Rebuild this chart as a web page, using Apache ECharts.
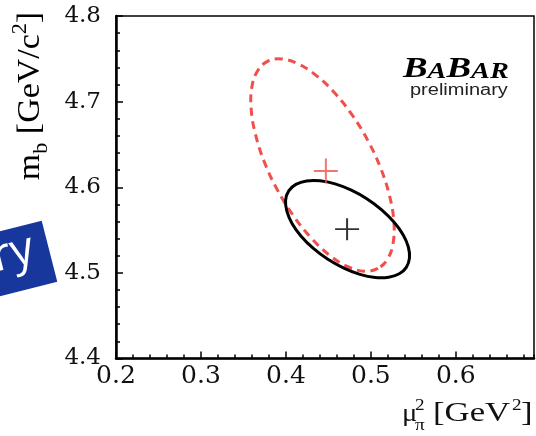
<!DOCTYPE html>
<html>
<head>
<meta charset="utf-8">
<script src="https://cdn.jsdelivr.net/npm/echarts@6/dist/echarts.min.js"></script>
<style>
  html, body { margin: 0; padding: 0; background: #fff; }
  #chart { width: 536px; height: 436px; }
</style>
</head>
<body>
<div id="chart"></div>
<script>
// Axis ranges and tick labels
const xRange = [0.2, 0.692];
const yRange = [4.4, 4.8];
const xTickValues = [0.2, 0.3, 0.4, 0.5, 0.6];
const xTickLabels = ['0.2', '0.3', '0.4', '0.5', '0.6'];
const yTickValues = [4.4, 4.5, 4.6, 4.7, 4.8];
const yTickLabels = ['4.4', '4.5', '4.6', '4.7', '4.8'];

// 1-sigma contour of the first fit (red, dashed): [mu_pi^2, m_b]
const redContour = [
  [0.5083, 4.5053], [0.4922, 4.5020], [0.4729, 4.5072], [0.4514, 4.5205],
  [0.4294, 4.5411], [0.4084, 4.5673], [0.3896, 4.5975], [0.3745, 4.6297],
  [0.3642, 4.6618], [0.3591, 4.6912], [0.3598, 4.7163], [0.3662, 4.7352],
  [0.3778, 4.7467], [0.3939, 4.7499], [0.4132, 4.7447], [0.4347, 4.7313],
  [0.4567, 4.7109], [0.4777, 4.6847], [0.4965, 4.6544], [0.5116, 4.6221],
  [0.5219, 4.5902], [0.5270, 4.5607], [0.5263, 4.5357], [0.5199, 4.5167]
];
// 1-sigma contour of the second fit (black, solid)
const blackContour = [
  [0.5417, 4.5065], [0.5334, 4.4989], [0.5209, 4.4949], [0.5051, 4.4946],
  [0.4871, 4.4982], [0.4682, 4.5055], [0.4494, 4.5158], [0.4323, 4.5285],
  [0.4179, 4.5428], [0.4072, 4.5577], [0.4011, 4.5720], [0.3996, 4.5850],
  [0.4033, 4.5957], [0.4117, 4.6033], [0.4242, 4.6074], [0.4400, 4.6076],
  [0.4579, 4.6040], [0.4770, 4.5967], [0.4956, 4.5864], [0.5127, 4.5737],
  [0.5271, 4.5594], [0.5379, 4.5446], [0.5441, 4.5302], [0.5454, 4.5172]
];
// Central values
const redCenter = [[0.447, 4.619]];
const blackCenter = [[0.472, 4.551]];

const SERIF = '"Liberation Serif", "Times New Roman", serif';
const TICK_FONT = '"DejaVu Serif", serif';
const SANS = '"Liberation Sans", Arial, sans-serif';
const RED = '#f0504c';
const CROSS = 'path://M0,11H24V13H0Z M11,0H13V24H11Z';

function labelFor(values, labels) {
  return function (v) {
    const i = values.findIndex(t => Math.abs(t - v) < 1e-6);
    return i >= 0 ? labels[i] : '';
  };
}

// Closed smooth contour through the data points, mapped by the axes
function contourRenderer(color, width, dash) {
  return function (params, api) {
    if (params.dataIndexInside !== 0) return null;
    const n = params.dataInsideLength;
    const pts = [];
    for (let i = 0; i < n; i++) {
      pts.push(api.coord([api.value(0, i), api.value(1, i)]));
    }
    return {
      type: 'polygon',
      shape: { points: pts, smooth: 0.4 },
      style: { fill: 'none', stroke: color, lineWidth: width, lineDash: dash, lineCap: 'butt' },
      silent: true
    };
  };
}

const tickLine = { color: '#000', width: 1.5 };

const option = {
  animation: false,
  backgroundColor: '#fff',
  grid: {
    left: 116, top: 16, width: 418, height: 342.5,
    show: true, borderColor: '#000', borderWidth: 1.5, backgroundColor: 'transparent'
  },
  xAxis: [
    {
      type: 'value', min: xRange[0], max: xRange[1], interval: 0.1, position: 'bottom',
      axisLine: { show: true, onZero: false, lineStyle: { color: '#000', width: 2.5 } },
      axisTick: { show: true, inside: true, length: 7, lineStyle: tickLine },
      axisLabel: {
        show: true, margin: 5, fontFamily: TICK_FONT, fontSize: 25, color: '#111',
        showMaxLabel: false, formatter: labelFor(xTickValues, xTickLabels)
      },
      splitLine: { show: false }
    },
    {
      type: 'value', min: xRange[0], max: xRange[1], interval: 0.02, position: 'bottom',
      axisLine: { show: false },
      axisTick: { show: true, inside: true, length: 4, lineStyle: tickLine },
      axisLabel: { show: false },
      splitLine: { show: false }
    }
  ],
  yAxis: {
    type: 'value', min: yRange[0], max: yRange[1], interval: 0.1,
    axisLine: { show: true, onZero: false, lineStyle: { color: '#000', width: 2.5 } },
    axisTick: { show: true, inside: true, length: 7, lineStyle: tickLine },
    minorTick: { show: true, splitNumber: 5, length: 4, lineStyle: tickLine },
    axisLabel: {
      show: true, margin: 15, fontFamily: TICK_FONT, fontSize: 23, color: '#111',
      formatter: labelFor(yTickValues, yTickLabels)
    },
    splitLine: { show: false },
    minorSplitLine: { show: false }
  },
  series: [
    {
      type: 'custom', name: 'fit A', xAxisIndex: 0,
      renderItem: contourRenderer(RED, 3, [8, 5.5]),
      data: redContour, z: 3
    },
    {
      type: 'custom', name: 'fit B', xAxisIndex: 0,
      renderItem: contourRenderer('#000', 3, null),
      data: blackContour, z: 4
    },
    {
      type: 'scatter', xAxisIndex: 0, data: redCenter,
      symbol: CROSS, symbolSize: [24, 25], itemStyle: { color: RED }, z: 5
    },
    {
      type: 'scatter', xAxisIndex: 0, data: blackCenter,
      symbol: CROSS, symbolSize: [24, 22], itemStyle: { color: '#000' }, z: 5
    }
  ],
  graphic: [
    // slide banner fragment on the left
    {
      type: 'group', x: 41.7, y: 220.7, rotation: 0.25, z: 10,
      children: [
        { type: 'rect', shape: { x: -200, y: 0, width: 200, height: 63 }, style: { fill: '#17379c' } },
        {
          type: 'text', x: -15, y: 25,
          style: { text: 'ry', fill: '#fff', font: '46px "Open Sans", sans-serif', align: 'right', verticalAlign: 'middle' }
        }
      ]
    },
    // y-axis title
    {
      type: 'text', x: 31, y: 96, rotation: Math.PI / 2, scaleX: 1.17, scaleY: 1.1, z: 10,
      style: {
        text: '{m|m}{b|b}{m| [GeV/c}{s|2}{m|]}',
        align: 'center', verticalAlign: 'middle',
        rich: {
          m: { fontFamily: SERIF, fontSize: 29, color: '#111', verticalAlign: 'middle', lineHeight: 38 },
          b: { fontFamily: SERIF, fontSize: 19, color: '#111', verticalAlign: 'bottom', lineHeight: 19 },
          s: { fontFamily: SERIF, fontSize: 19, color: '#111', verticalAlign: 'top', lineHeight: 19 }
        }
      }
    },
    // x-axis title
    { type: 'text', x: 402, y: 414, scaleX: 1.1, z: 10,
      style: { text: 'μ', font: '26px ' + SERIF, fill: '#111', align: 'left', verticalAlign: 'middle' } },
    { type: 'text', x: 415, y: 406, scaleX: 1.2, z: 10,
      style: { text: '2', font: '16px ' + SERIF, fill: '#111', align: 'left', verticalAlign: 'middle' } },
    { type: 'text', x: 415, y: 426, scaleX: 1.2, z: 10,
      style: { text: 'π', font: '16px ' + SERIF, fill: '#111', align: 'left', verticalAlign: 'middle' } },
    { type: 'text', x: 433, y: 413.2, scaleX: 1.24, z: 10,
      style: { text: '[GeV', font: '28px ' + SERIF, fill: '#111', align: 'left', verticalAlign: 'middle' } },
    { type: 'text', x: 512, y: 406, scaleX: 1.2, z: 10,
      style: { text: '2', font: '16px ' + SERIF, fill: '#111', align: 'left', verticalAlign: 'middle' } },
    { type: 'text', x: 521, y: 413.2, scaleX: 1.24, z: 10,
      style: { text: ']', font: '28px ' + SERIF, fill: '#111', align: 'left', verticalAlign: 'middle' } },
    // experiment logo
    {
      type: 'text', x: 403, y: 69, scaleX: 1.23, z: 10,
      style: {
        text: '{B|B}{a|A}{B|B}{a|AR}',
        align: 'left', verticalAlign: 'middle',
        rich: {
          B: { fontFamily: SERIF, fontSize: 30, fontStyle: 'italic', fontWeight: 'bold', color: '#000', verticalAlign: 'bottom', lineHeight: 30 },
          a: { fontFamily: SERIF, fontSize: 23, fontStyle: 'italic', fontWeight: 'bold', color: '#000', verticalAlign: 'bottom', lineHeight: 23 }
        }
      }
    },
    { type: 'text', x: 410, y: 91, scaleX: 1.25, z: 10,
      style: { text: 'preliminary', font: '16px ' + SANS, fill: '#222', align: 'left', verticalAlign: 'middle' } }
  ]
};

const chart = echarts.init(document.getElementById('chart'), null, { renderer: 'canvas' });
chart.setOption(option);
</script>
</body>
</html>
